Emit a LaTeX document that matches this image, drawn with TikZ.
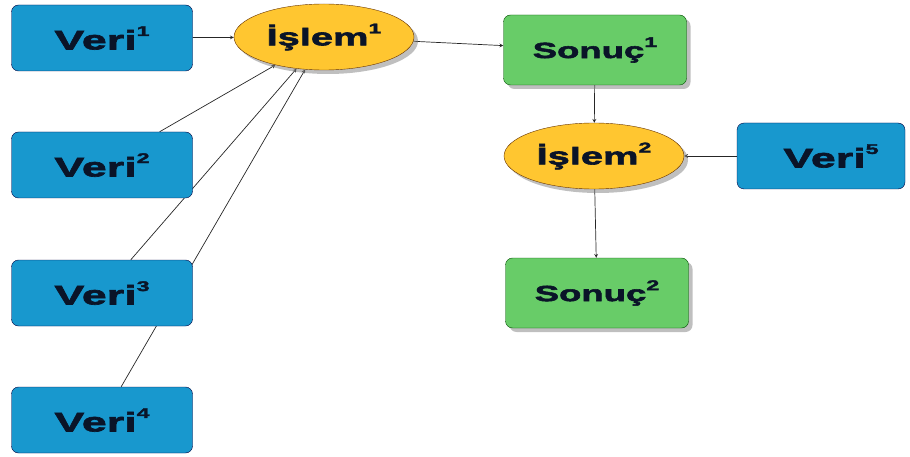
\documentclass[tikz,border=0pt]{standalone}
\usepackage{fontspec}
\newfontfamily\diafont{Liberation Sans Bold}[FakeStretch=1.66, FakeBold=2.5]
\usetikzlibrary{arrows, shadows, backgrounds, shapes.geometric}
\definecolor{veriblue}{RGB}{24,152,206}
\definecolor{sonucgreen}{RGB}{104,204,104}
\definecolor{islemyellow}{RGB}{255,198,48}
\definecolor{inkblue}{RGB}{10,20,40}
\newcommand{\idx}[1]{\raisebox{0.5em}{\fontsize{14}{14}\selectfont #1}}

\begin{document}
\begin{tikzpicture}[x=1pt, y=-1pt, >=stealth,
        veri/.style={draw=black!75!blue, fill=veriblue, rounded corners=7pt,
            minimum width=181pt, minimum height=66pt, inner sep=0pt,
            text=inkblue, font=\diafont\fontsize{27}{30}\selectfont},
        sonuc/.style={draw=black!70!green, fill=sonucgreen, rounded corners=7pt,
            minimum width=183pt, minimum height=70pt, inner sep=0pt,
            drop shadow={shadow xshift=4pt, shadow yshift=-4pt, fill=black!50},
            text=inkblue, font=\diafont\fontsize{22}{25}\selectfont},
        islem/.style={draw=black!60!orange, fill=islemyellow, ellipse,
            minimum width=180pt, minimum height=66pt, inner sep=0pt,
            drop shadow={shadow xshift=4pt, shadow yshift=-4pt, fill=black!50},
            text=inkblue, font=\diafont\fontsize{24}{27}\selectfont},
        link/.style={->, draw=black!85, line width=0.7pt}]
        \useasboundingbox (0,0) rectangle (910,457);
        
        % inputs
        \node[veri] (V1) at (102,38) {Veri\idx{1}\hspace{34pt}};
        \node[veri] (V2) at (102,165) {Veri\idx{2}};
        \node[veri] (V3) at (102,293) {Veri\idx{3}};
        \node[veri] (V4) at (102,420) {Veri\idx{4}};
        \node[veri, minimum width=168pt] (V5) at (821,156) {\hspace{20pt}Veri\idx{5}};
        
        % steps and results
        \node[islem] (I1) at (324,37) {İşlem\idx{1}};
        \node[islem] (I2) at (594,156) {İşlem\idx{2}};
        \node[sonuc] (S1) at (595,50) {Sonuç\idx{1}};
        \node[sonuc] (S2) at (597,293) {Sonuç\idx{2}};
        
        \begin{pgfonlayer}{background}
        \draw[link] (V1) -- (I1);
        \draw[link] (V2) -- (I1);
        \draw[link] (V3) -- (I1);
        \draw[link] (V4) -- (I1);
        \draw[link] (I1) -- (S1);
        \draw[link] (S1) -- (I2);
        \draw[link] (V5) -- (I2);
        \draw[link] (I2) -- (S2);
        \end{pgfonlayer}
        
    \end{tikzpicture}
\end{document}
